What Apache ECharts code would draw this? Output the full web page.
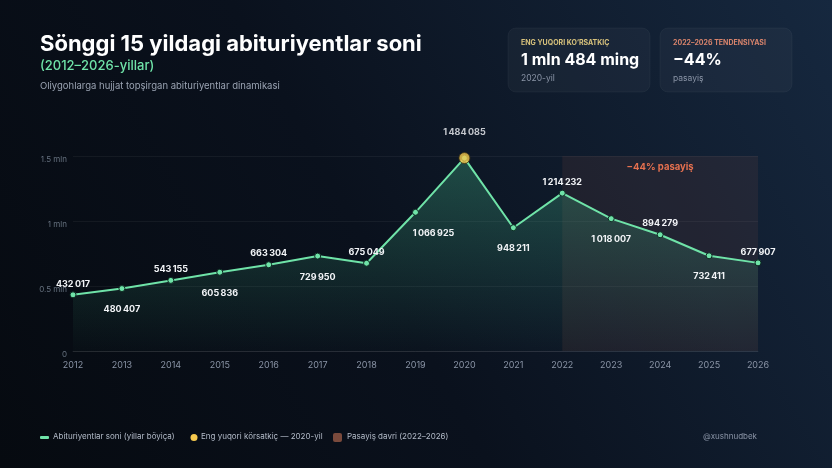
<!DOCTYPE html>
<html>
<head>
<meta charset="utf-8">
<script src="https://cdn.jsdelivr.net/npm/echarts@6/dist/echarts.min.js"></script>
<style>
html,body{margin:0;padding:0;background:#080d16;}
#c{width:832px;height:468px;}
</style>
</head>
<body>
<div id="c"></div>
<script>
const years = ['2012','2013','2014','2015','2016','2017','2018','2019','2020','2021','2022','2023','2024','2025','2026'];
const applicants = [432017,480407,543155,605836,663304,729950,675049,1066925,1484085,948211,1214232,1018007,894279,732411,677907];
const labelSide = ['top','bottom','top','bottom','top','bottom','top','bottom','top','bottom','top','bottom','top','bottom','top'];
const yTicks = {0:'0',500000:'0.5 mln',1000000:'1 mln',1500000:'1.5 mln'};
const declineStart = '2022';
const declineEnd = '2026';

const F = 'Inter, "Noto Sans", sans-serif';
const fmt = v => String(v).replace(/\B(?=(\d{3})+(?!\d))/g, '\u2009');
const peakIdx = applicants.indexOf(Math.max(...applicants));

const mainData = applicants.map((v, i) => {
  const bottom = labelSide[i] === 'bottom';
  return {
    value: v,
    label: {
      show: i !== peakIdx,
      position: labelSide[i],
      distance: bottom ? 13 : 3,
      offset: i === 7 ? [18, 0] : [0, 0]
    }
  };
});

const chart = echarts.init(document.getElementById('c'), null, {renderer: 'canvas'});
chart.setOption({
  animation: false,
  backgroundColor: {
    type: 'linear', x: 1, y: 0, x2: 0, y2: 1,
    colorStops: [{offset: 0, color: '#16283f'}, {offset: 0.55, color: '#0a111d'}, {offset: 1, color: '#060a10'}]
  },
  textStyle: {fontFamily: F},
  grid: {left: 73, right: 74, top: 156, bottom: 117, containLabel: false},
  xAxis: {
    type: 'category', data: years, boundaryGap: false,
    axisLine: {show: true, lineStyle: {color: 'rgba(255,255,255,0.08)'}},
    axisTick: {show: false},
    axisLabel: {color: '#8a94a6', fontSize: 9, margin: 10, fontFamily: F}
  },
  yAxis: {
    type: 'value', min: 0, max: 1500000, interval: 500000,
    axisLine: {show: false}, axisTick: {show: false},
    splitLine: {lineStyle: {color: 'rgba(255,255,255,0.05)'}},
    axisLabel: {color: '#66717f', fontSize: 8, margin: 6, verticalAlign: 'top', fontFamily: F, formatter: v => yTicks[v] !== undefined ? yTicks[v] : ''}
  },
  series: [
    {
      name: 'Abituriyentlar soni (yillar böyiça)',
      type: 'line',
      data: mainData,
      symbol: 'circle', symbolSize: 6,
      itemStyle: {color: '#6fe3a8', borderColor: '#0d2a22', borderWidth: 1},
      lineStyle: {color: '#6fe3a8', width: 2},
      areaStyle: {
        color: {type: 'linear', x: 0, y: 0, x2: 0, y2: 1,
          colorStops: [{offset: 0, color: 'rgba(70,190,140,0.45)'}, {offset: 1, color: 'rgba(70,190,140,0.02)'}]}
      },
      label: {show: true, color: '#f2f4f7', fontSize: 9, fontWeight: 'bold', fontFamily: F, formatter: p => fmt(p.value)},
      markArea: {
        silent: true,
        itemStyle: {color: 'rgba(120,70,65,0.17)'},
        label: {show: true, position: 'insideTop', distance: 6, color: '#e5704f', fontSize: 9.5, fontWeight: 'bold', fontFamily: F},
        data: [[{xAxis: declineStart, yAxis: 1500000, name: '\u221244% pasayiş'}, {xAxis: declineEnd, yAxis: 0}]]
      },
      z: 3
    },
    {
      name: 'Eng yuqori körsatkiç — 2020-yil',
      type: 'scatter',
      data: [[years[peakIdx], applicants[peakIdx]]],
      symbolSize: 11,
      itemStyle: {color: '#f6c94e', borderColor: '#3a3214', borderWidth: 1},
      label: {show: true, position: 'top', distance: 15, color: '#f2f4f7', fontSize: 9, fontWeight: 'bold', fontFamily: F, formatter: p => fmt(p.value[1])},
      z: 5
    }
  ],
  graphic: [
    {type: 'text', left: 40, top: 33, style: {text: 'Sönggi 15 yildagi abituriyentlar soni', fill: '#ffffff', font: 'bold 22px ' + F}},
    {type: 'text', left: 40, top: 60, style: {text: '(2012\u20132026-yillar)', fill: '#6fe3a8', font: '500 13px ' + F}},
    {type: 'text', left: 40, top: 81, style: {text: 'Oliygohlarga hujjat topşirgan abituriyentlar dinamikasi', fill: '#9aa3b2', font: '9.5px ' + F}},

    {type: 'rect', shape: {x: 508, y: 28, width: 142, height: 64, r: 8}, style: {fill: 'rgba(255,255,255,0.035)', stroke: 'rgba(255,255,255,0.04)'}},
    {type: 'text', left: 521, top: 39, style: {text: 'ENG YUQORI KO\u2018RSATKIÇ', fill: '#d8c27c', font: 'bold 7px ' + F}},
    {type: 'text', left: 521, top: 52, style: {text: '1 mln 484 ming', fill: '#ffffff', font: 'bold 16px ' + F}},
    {type: 'text', left: 521, top: 74, style: {text: '2020-yil', fill: '#8a94a6', font: '8.5px ' + F}},

    {type: 'rect', shape: {x: 660, y: 28, width: 132, height: 64, r: 8}, style: {fill: 'rgba(255,255,255,0.035)', stroke: 'rgba(255,255,255,0.04)'}},
    {type: 'text', left: 673, top: 39, style: {text: '2022\u20132026 TENDENSIYASI', fill: '#d9846c', font: 'bold 7px ' + F}},
    {type: 'text', left: 673, top: 52, style: {text: '\u221244%', fill: '#ffffff', font: 'bold 16px ' + F}},
    {type: 'text', left: 673, top: 74, style: {text: 'pasayiş', fill: '#8a94a6', font: '8.5px ' + F}},

    {type: 'rect', shape: {x: 40, y: 436, width: 9, height: 3, r: 1}, style: {fill: '#6fe3a8'}},
    {type: 'text', left: 53, top: 433, style: {text: 'Abituriyentlar soni (yillar böyiça)', fill: '#b3bbc8', font: '8px ' + F}},
    {type: 'circle', shape: {cx: 194, cy: 437.5, r: 3.5}, style: {fill: '#f6c94e'}},
    {type: 'text', left: 201, top: 433, style: {text: 'Eng yuqori körsatkiç \u2014 2020-yil', fill: '#b3bbc8', font: '8px ' + F}},
    {type: 'rect', shape: {x: 333, y: 433, width: 9, height: 9, r: 2}, style: {fill: '#7a4a3c'}},
    {type: 'text', left: 347, top: 433, style: {text: 'Pasayiş davri (2022\u20132026)', fill: '#b3bbc8', font: '8px ' + F}},
    {type: 'text', right: 75, top: 433, style: {text: '@xushnudbek', fill: '#8a94a6', font: '8px ' + F}}
  ]
});
</script>
</body>
</html>
